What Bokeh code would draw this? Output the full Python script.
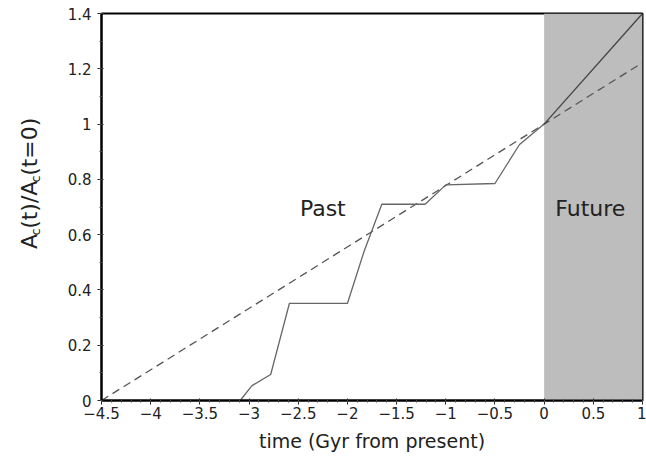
import math
from bokeh.plotting import figure
from bokeh.layouts import row
from bokeh.models import FixedTicker
from bokeh.core.properties import value
from bokeh.embed import file_html
from bokeh.resources import INLINE

# ---- data ----
past_t = [-3.09, -2.97, -2.78, -2.59, -2.0, -1.83, -1.65, -1.21, -1.0, -0.5, -0.25, 0.0]
past_a = [0.0, 0.054, 0.094, 0.351, 0.351, 0.54, 0.71, 0.71, 0.78, 0.785, 0.926, 1.0]
future_t = [0.0, 1.0]
future_a = [1.0, 1.4]
trend_t = [-4.5, 1.0]
trend_a = [0.0, 1.222]
future_span = [0.0, 1.0]

x_ticks = [-4.5, -4.0, -3.5, -3.0, -2.5, -2.0, -1.5, -1.0, -0.5, 0.0, 0.5, 1.0]
x_tick_labels = ["\u22124.5", "\u22124", "\u22123.5", "\u22123", "\u22122.5", "\u22122",
                 "\u22121.5", "\u22121", "\u22120.5", "0", "0.5", "1"]
y_ticks = [0.0, 0.2, 0.4, 0.6, 0.8, 1.0, 1.2, 1.4]
y_tick_labels = ["0", "0.2", "0.4", "0.6", "0.8", "1", "1.2", "1.4"]
region_names = ["Past", "Future"]
ylabel_parts = ["A", "c", "(t)/A", "c", "(t=0)"]
ylabel_is_sub = [False, True, False, True, False]

FONT = "DejaVu Sans"
H = 460
LW = 45  # width of the strip that carries the y-axis title

# ---- strip with the y-axis title (real text, with subscripts) ----
lab = figure(width=LW, height=H, x_range=(0, LW), y_range=(0, H),
             output_backend="svg", toolbar_location=None,
             x_axis_type=None, y_axis_type=None,
             min_border_left=0, min_border_right=0, min_border_top=0, min_border_bottom=0)
lab.xgrid.visible = False
lab.ygrid.visible = False
lab.outline_line_color = None
lab.background_fill_color = "white"
lab.border_fill_color = "white"
part_start = [180, 196, 204, 259, 267]
for txt, sub, ys in zip(ylabel_parts, ylabel_is_sub, part_start):
    lab.text(x=[35 if sub else 29], y=[ys], text=[txt], angle=math.pi / 2,
             text_font=value(FONT), text_font_size="13px" if sub else "22px",
             text_color="#222222", text_align="left", text_baseline="middle")

# ---- main plot ----
p = figure(width=646 - LW, height=H, x_range=(-4.5, 1.0), y_range=(0.0, 1.4),
           output_backend="svg", toolbar_location=None,
           min_border_left=101 - LW, min_border_right=4, min_border_top=13, min_border_bottom=60)
p.xgrid.visible = False
p.ygrid.visible = False
p.outline_line_color = "black"
p.outline_line_width = 2
p.background_fill_color = "white"
p.border_fill_color = "white"

p.quad(left=[future_span[0]], right=[future_span[1]], bottom=[0.0], top=[1.4],
       fill_color="#bdbdbd", line_color=None)

p.line(trend_t, trend_a, line_color="#555555", line_width=1.3, line_dash="8 5")
p.line(past_t, past_a, line_color="#666666", line_width=1.3)
p.line(future_t, future_a, line_color="#444444", line_width=1.3)

p.text(x=[-2.25, 0.47], y=[0.696, 0.696], text=region_names,
       text_font=value(FONT), text_font_size="22px", text_color="#222222",
       text_align="center", text_baseline="middle")

minor_x = [round(-4.5 + 0.1 * i, 2) for i in range(56)]
minor_y = [round(0.1 * i, 2) for i in range(15)]
p.xaxis.ticker = FixedTicker(ticks=x_ticks, minor_ticks=minor_x)
p.yaxis.ticker = FixedTicker(ticks=y_ticks, minor_ticks=minor_y)
p.xaxis.major_label_overrides = {t: l for t, l in zip(x_ticks, x_tick_labels)}
p.yaxis.major_label_overrides = {t: l for t, l in zip(y_ticks, y_tick_labels)}

for ax in (p.xaxis[0], p.yaxis[0]):
    ax.axis_line_width = 2
    ax.axis_line_color = "black"
    ax.major_tick_in = 2
    ax.major_tick_out = 4
    ax.minor_tick_in = 1
    ax.minor_tick_out = 2
    ax.major_tick_line_color = "#222222"
    ax.minor_tick_line_color = "#444444"
    ax.major_label_text_font = FONT
    ax.major_label_text_font_size = "15px"
    ax.major_label_text_color = "#222222"

p.xaxis.major_label_standoff = 2
p.yaxis.major_label_standoff = 6
p.xaxis.axis_label = "time (Gyr from present)"
p.xaxis.axis_label_text_font = FONT
p.xaxis.axis_label_text_font_size = "19px"
p.xaxis.axis_label_text_font_style = "normal"
p.xaxis.axis_label_text_color = "#222222"
p.xaxis.axis_label_standoff = 8

layout = row(lab, p, spacing=0)
open("out.html", "w").write(file_html(layout, INLINE))
